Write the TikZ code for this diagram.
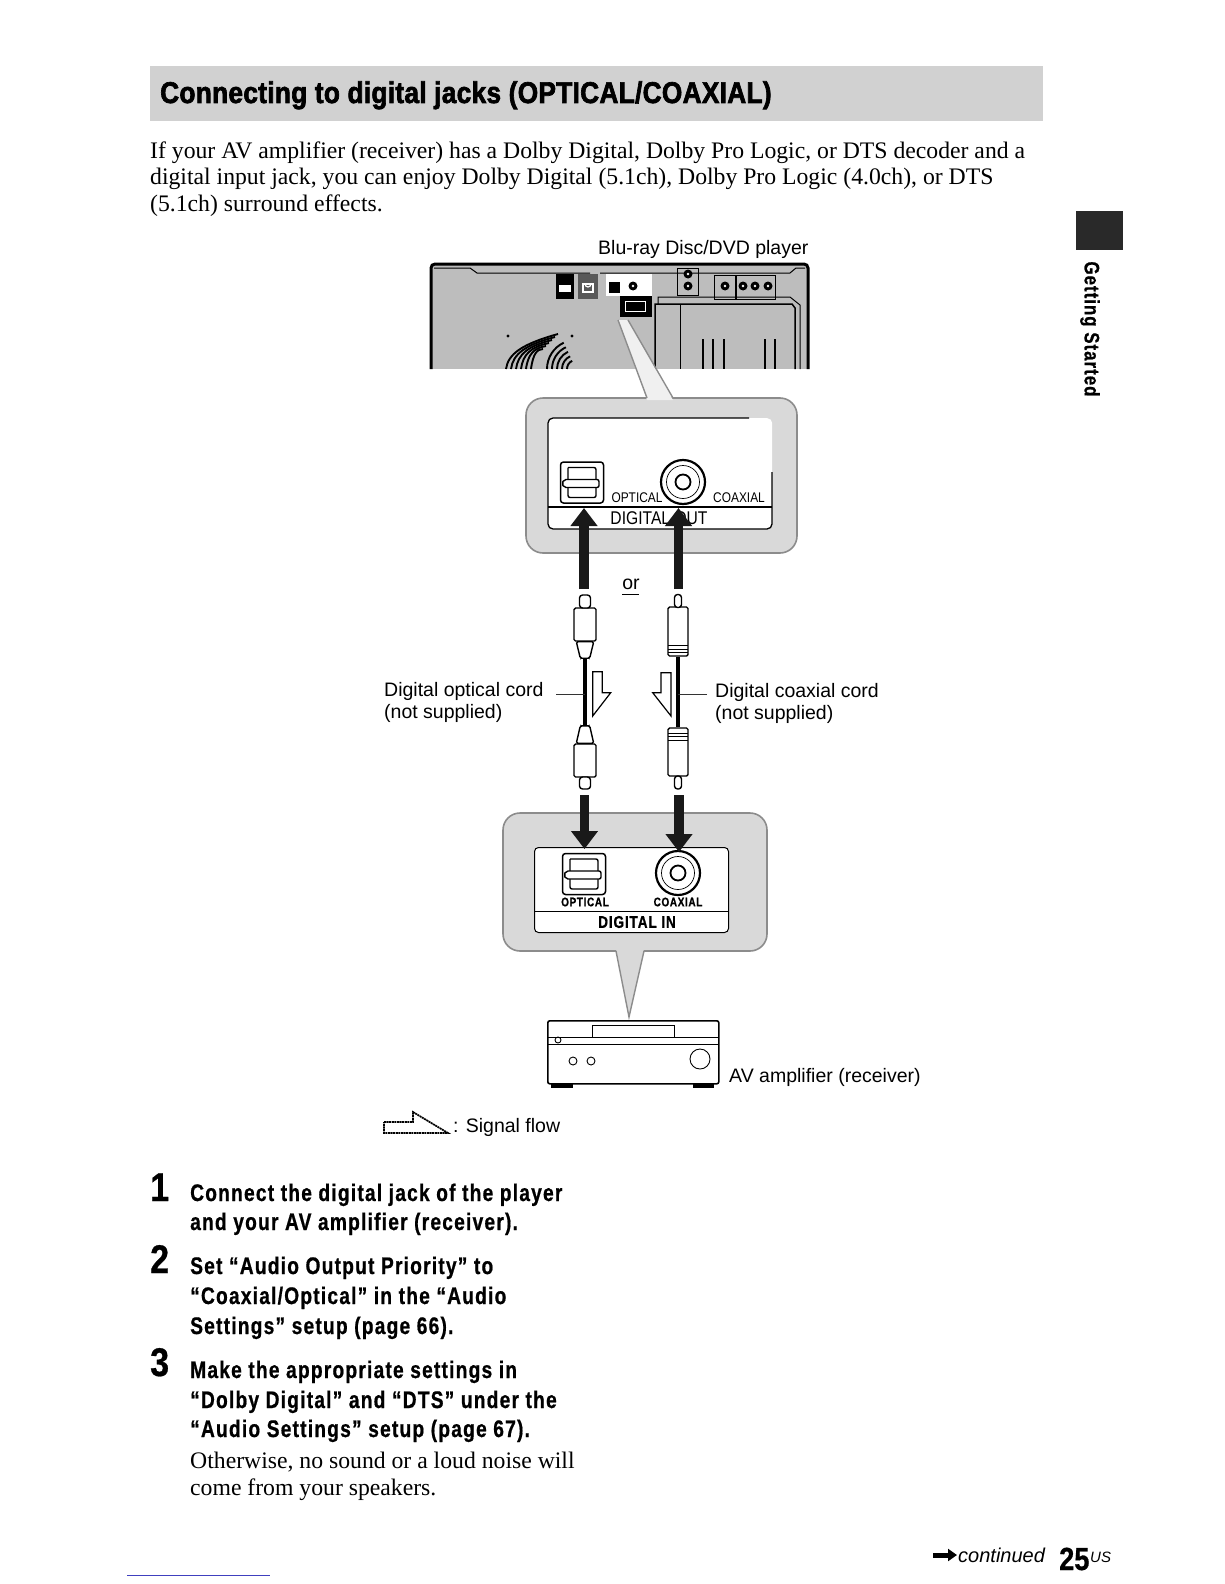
\documentclass[tikz,border=0pt]{standalone}
\usepackage{fontspec}
\usetikzlibrary{arrows.meta}
\setmainfont{Liberation Serif}
\setsansfont{Liberation Sans}
\newfontfamily\headfont[FakeStretch=0.875,FakeBold=2.2,LetterSpace=1]{Liberation Sans Bold}
\newfontfamily\stepfont[FakeStretch=0.80,FakeBold=.7,LetterSpace=5]{Liberation Sans Bold}
\newfontfamily\numfont[FakeStretch=0.85,FakeBold=.6]{Liberation Sans Bold}
\newfontfamily\narrowfont[FakeStretch=0.85]{Liberation Sans}
\definecolor{bandgray}{gray}{0.82}
\definecolor{bubblegray}{gray}{0.85}
\definecolor{rimgray}{gray}{0.55}
\definecolor{playergray}{gray}{0.74}
\definecolor{tabgray}{gray}{0.16}
\tikzset{
  txt/.style={anchor=base west,inner sep=0pt},
  bodytxt/.style={txt,font=\rmfamily\fontsize{23.7}{26}\selectfont},
  steptxt/.style={txt,font=\stepfont\fontsize{24}{26}\selectfont},
  stepnum/.style={txt,font=\numfont\fontsize{40}{40}\selectfont},
  labeltxt/.style={txt,font=\sffamily\fontsize{19.5}{22}\selectfont},
  bubble/.style={draw=rimgray,line width=1.6pt,fill=bubblegray,rounded corners=17pt},
  sigflow/.style={line width=9.5pt,draw=black!90,-{Triangle[width=26pt,length=18pt]}},
  hollow/.style={draw=black,line width=1.2pt,fill=white},
  plug/.style={draw=black,line width=1.4pt,fill=white,rounded corners=1.5pt,inner sep=0pt},
  cord/.style={line width=3.6pt,black},
  lead/.style={line width=.8pt,black!80},
  optical socket/.pic={
    \draw[line width=1.5pt,rounded corners=3pt] (-21.5,-20.5) rectangle (21.5,20.5);
    \draw[line width=1.4pt,rounded corners=2pt] (-14,-15) -- (14,-15) -- (14,-5) -- (14,15) -- (-14,15) -- (-14,-15);
    \draw[line width=1.4pt,fill=white,rounded corners=2pt] (-18,-3) -- (17,-3) -- (17,5) -- (-18,5) -- (-20,1) -- cycle;
  },
  coax socket/.pic={
    \draw[line width=2.2pt,fill=white] (0,0) circle (22);
    \draw[line width=.7pt] (0,0) circle (16.5);
    \draw[line width=1.8pt] (0,0) circle (7.5);
  },
  small jack/.pic={
    \fill[black] (0,0) circle (4.5);
    \fill[white] (0,0) circle (1.4);
  }
}
\begin{document}
\begin{tikzpicture}[x=1pt,y=-1pt]
  \useasboundingbox (0,0) rectangle (1224,1584);
  % heading and intro
  \node[anchor=north west,fill=bandgray,minimum width=893pt,minimum height=55pt,inner sep=0pt] (band) at (150,66) {};
  \node[txt,font=\headfont\fontsize{30}{30}\selectfont] (head) at (160,103) {Connecting to digital jacks (OPTICAL/COAXIAL)};
  \node[bodytxt] (introa) at (150,158) {If your AV amplifier (receiver) has a Dolby Digital, Dolby Pro Logic, or DTS decoder and a};
  \node[bodytxt] (introb) at (150,184) {digital input jack, you can enjoy Dolby Digital (5.1ch), Dolby Pro Logic (4.0ch), or DTS};
  \node[bodytxt] (introc) at (150,211) {(5.1ch) surround effects.};

  % player
  \node[labeltxt] (playerlbl) at (598,254) {Blu-ray Disc/DVD player};
  \fill[playergray] (431,369) -- (431,265) -- (808,265) -- (808,369) -- cycle;
  \draw[line width=3pt,rounded corners=4pt] (431,369) -- (431,264) -- (808,264) -- (808,369);
  \draw[line width=1pt] (434,268) -- (470,268) -- (477,273) -- (590,273) (600,273) -- (790,273) -- (796,268) -- (805,268);
  \fill (556,274) rectangle (574,299);
  \fill[white] (559,285) rectangle (571,292);
  \fill[black!65] (578,274) rectangle (598,299);
  \draw[white,line width=1.5pt] (583,292) -- (593,292) -- (593,284) -- (583,284) -- cycle;
  \draw[white,line width=1.2pt] (585,284) arc (180:0:3);
  \fill[white] (606,274) rectangle (652,296);
  \fill (609,282) rectangle (620,293);
  \pic at (633,286) {small jack};
  \fill (620,296) rectangle (652,317);
  \draw[white,line width=1pt] (625,301) rectangle (645,311);
  \draw[line width=.8pt] (677,268) rectangle (698,295);
  \pic at (688,274) {small jack};
  \pic at (688,286) {small jack};
  \draw[line width=.8pt] (714,275) rectangle (735,299);
  \draw[line width=.8pt] (736,275) rectangle (775,299);
  \foreach \jx in {725,743,755,768} {
    \pic at (\jx,286) {small jack};
  }
  \draw[line width=1.5pt] (655,369) -- (655,304) -- (792,304) -- (795,308) -- (795,369);
  \draw[line width=1pt] (658,304) -- (658,297) -- (790,297) -- (800,305) -- (800,369);
  \draw[line width=1pt] (680,304) -- (680,369);
  \foreach \sx in {703,713,724,765,775} {
    \draw[line width=2.4pt] (\sx,339) -- (\sx,369);
  }
  % fan
  \fill (508,336) circle (1.6);
  \fill (572,336) circle (1.6);
  \begin{scope}
    \clip (500,333) rectangle (580,369);
    \foreach \bn in {0,1,2,3,4,5} {
      \draw[line width=1.9pt] (506+5*\bn,369) .. controls (508+5*\bn,354) and (522+3*\bn,344+\bn) .. (558-3*\bn,334+3*\bn);
    }
    \foreach \fr in {9,14,19,24,29} {
      \draw[line width=1.9pt] (576-\fr,369) arc (180:245:\fr);
    }
  \end{scope}
  % upper bubble
  \draw[bubble] (526,398) rectangle (797,553);
  \fill[bubblegray!40] (618,320) -- (647,400) -- (673,400) -- (628,320) -- cycle;
  \draw[rimgray,line width=1.4pt] (618,320) -- (647,398) (628,320) -- (673,398);
  \node[anchor=north west,fill=white,minimum width=224pt,minimum height=111pt,inner sep=0pt,rounded corners=5pt] (outpanel) at (548,418) {};
  \draw[line width=1.3pt,rounded corners=5pt] (749,418) -- (548,418) -- (548,529) -- (772,529) -- (772,472);
  \draw[line width=1.2pt] (548,507) -- (772,507);
  \pic at (582,482.5) {optical socket};
  \pic at (683,482) {coax socket};
  \node[font=\narrowfont\fontsize{14}{14}\selectfont,inner sep=0pt] (outoptlbl) at (637,498) {OPTICAL};
  \node[font=\narrowfont\fontsize{14}{14}\selectfont,inner sep=0pt] (outcoaxlbl) at (739,498) {COAXIAL};
  \node[font=\narrowfont\fontsize{18.4}{18}\selectfont,inner sep=0pt] (outlbl) at (659,518) {DIGITAL OUT};
  \coordinate (optoutfoot) at (584,589);
  \coordinate (optoutport) at (584,508);
  \coordinate (coaxoutfoot) at (678.5,589);
  \coordinate (coaxoutport) at (678.5,508);
  \draw[sigflow] (optoutfoot) -- (optoutport);
  \draw[sigflow] (coaxoutfoot) -- (coaxoutport);
  \node[font=\sffamily\fontsize{19.5}{20}\selectfont,inner sep=0pt] (orlbl) at (631,584) {or};
  \draw[line width=1pt] (622,594) -- (639,594);

  % optical cord
  \node[plug,minimum width=22pt,minimum height=33pt] (optbodya) at (585,624.5) {};
  \node[plug,minimum width=22pt,minimum height=33pt] (optbodyb) at (585,760.5) {};
  \node[plug,minimum width=11pt,minimum height=13pt,rounded corners=3pt] (opttipa) at (585,601.5) {};
  \node[plug,minimum width=11pt,minimum height=12pt,rounded corners=3pt] (opttipb) at (585,783) {};
  \node[plug,minimum width=8pt,minimum height=1pt] (optneckend) at (585,657) {};
  \node[plug,minimum width=8pt,minimum height=1pt] (optneckendb) at (585,727) {};
  \draw[plug] (optbodya.south west) ++(3,0) -- (optneckend.south west) -- (optneckend.south east) -- ([xshift=-3pt]optbodya.south east) -- cycle;
  \draw[plug] (optbodyb.north west) ++(3,0) -- (optneckendb.north west) -- (optneckendb.north east) -- ([xshift=-3pt]optbodyb.north east) -- cycle;
  \draw[cord] (optneckend) -- (optneckendb);
  % coaxial cord
  \node[plug,minimum width=20pt,minimum height=49pt] (coaxbodya) at (678,631.5) {};
  \node[plug,minimum width=20pt,minimum height=48pt] (coaxbodyb) at (678,752) {};
  \node[plug,minimum width=7pt,minimum height=13pt,rounded corners=3pt] (coaxtipa) at (678,601) {};
  \node[plug,minimum width=7pt,minimum height=13pt,rounded corners=3pt] (coaxtipb) at (678,782.5) {};
  \draw[line width=.6pt] (668,645) -- (688,645) (668,649) -- (688,649) (668,652) -- (688,652);
  \draw[line width=.6pt] (668,733) -- (688,733) (668,736) -- (688,736) (668,740) -- (688,740);
  \draw[cord] (coaxbodya) -- (coaxbodyb);
  % signal flow beside the cords
  \draw[hollow] (592.7,671.7) -- (602.3,671.7) -- (602.3,692.7) -- (610.7,692.7) -- (592.7,716) -- cycle;
  \draw[hollow] (671,672.7) -- (661,672.7) -- (661,692.7) -- (652.7,692.7) -- (671,716) -- cycle;
  \node[labeltxt] (optlbl) at (384,696) {Digital optical cord};
  \node[labeltxt] (optlblb) at (384,718) {(not supplied)};
  \node[labeltxt] (coaxlbl) at (715,697) {Digital coaxial cord};
  \node[labeltxt] (coaxlblb) at (715,719) {(not supplied)};
  \coordinate (optlead) at (556,694);
  \coordinate (optcordpt) at (585,694);
  \coordinate (coaxlead) at (707,694);
  \coordinate (coaxcordpt) at (678,694);
  \draw[lead] (optlead) -- (optcordpt);
  \draw[lead] (coaxlead) -- (coaxcordpt);

  % lower bubble
  \draw[bubble] (503,813) rectangle (767,951);
  \fill[bubblegray] (616,949) -- (629,1017) -- (644,949) -- cycle;
  \draw[rimgray,line width=1.4pt] (616,951) -- (629,1017) -- (644,951);
  \node[anchor=north west,draw=black,line width=1pt,fill=white,minimum width=194pt,minimum height=85pt,inner sep=0pt,rounded corners=4pt] (inpanel) at (534,847) {};
  \draw[line width=.9pt] (inpanel.west |- 0,911) -- (inpanel.east |- 0,911);
  \pic at (584,874) {optical socket};
  \pic at (678,873) {coax socket};
  \node[font=\stepfont\fontsize{12.5}{13}\selectfont,inner sep=0pt] (inoptlbl) at (585,902) {OPTICAL};
  \node[font=\stepfont\fontsize{12.5}{13}\selectfont,inner sep=0pt] (incoaxlbl) at (678,902) {COAXIAL};
  \node[font=\stepfont\fontsize{17}{16}\selectfont,inner sep=0pt] (inlbl) at (637,922) {DIGITAL IN};
  \coordinate (optinfoot) at (584.5,795);
  \coordinate (optinport) at (584.5,849);
  \coordinate (coaxinfoot) at (679,795);
  \coordinate (coaxinport) at (679,852);
  \draw[sigflow] (optinfoot) -- (optinport);
  \draw[sigflow] (coaxinfoot) -- (coaxinport);

  % amplifier
  \fill (551,1083) rectangle (573,1088);
  \fill (693,1083) rectangle (714,1088);
  \node[anchor=north west,draw=black,line width=1.6pt,fill=white,minimum width=171pt,minimum height=63pt,inner sep=0pt,rounded corners=2pt] (amp) at (547,1020) {};
  \draw[line width=1pt,fill=white] (592,1025) rectangle (674,1037);
  \draw[line width=.8pt] (547,1037) -- (592,1037) (674,1037) -- (718,1037);
  \draw[line width=.8pt] (547,1044) -- (718,1044);
  \draw[line width=.9pt] (558,1040) circle (3);
  \draw[line width=.9pt] (573,1061) circle (4);
  \draw[line width=.9pt] (591,1061) circle (4);
  \draw[line width=.9pt] (700,1059) circle (10);
  \node[labeltxt] (amplbl) at (729,1082) {AV amplifier (receiver)};
  % legend
  \draw[draw=black,line width=1.7pt,dash pattern=on 2pt off .6pt] (384,1122) -- (413,1122) -- (413,1112) -- (448,1133) -- (384,1133) -- cycle;
  \node[labeltxt] (legendlbl) at (453,1132) {: Signal flow};

  % steps
  \node[stepnum] (numa) at (150,1201) {1};
  \node[steptxt] (stepa) at (190,1201) {Connect the digital jack of the player};
  \node[steptxt] (stepab) at (190,1230) {and your AV amplifier (receiver).};
  \node[stepnum] (numb) at (150,1273) {2};
  \node[steptxt] (stepb) at (190,1274) {Set “Audio Output Priority” to};
  \node[steptxt] (stepbb) at (190,1304) {“Coaxial/Optical” in the “Audio};
  \node[steptxt] (stepbc) at (190,1334) {Settings” setup (page 66).};
  \node[stepnum] (numc) at (150,1376) {3};
  \node[steptxt] (stepc) at (190,1378) {Make the appropriate settings in};
  \node[steptxt] (stepcb) at (190,1408) {“Dolby Digital” and “DTS” under the};
  \node[steptxt] (stepcc) at (190,1437) {“Audio Settings” setup (page 67).};
  \node[bodytxt] (notea) at (190,1468) {Otherwise, no sound or a loud noise will};
  \node[bodytxt] (noteb) at (190,1495) {come from your speakers.};

  % side tab and footer
  \fill[tabgray] (1076,211) rectangle (1123,250);
  \node[rotate=-90,font=\stepfont\fontsize{21}{21}\selectfont,inner sep=0pt] (tablbl) at (1090,329) {Getting Started};
  \draw[line width=5pt,-{Triangle[width=12pt,length=9pt]}] (933,1555) -- (957,1555);
  \node[txt,font=\sffamily\itshape\fontsize{20}{20}\selectfont] (contlbl) at (958,1562) {continued};
  \node[txt,font=\numfont\fontsize{32}{32}\selectfont] (pagelbl) at (1059,1570) {25};
  \node[txt,font=\sffamily\itshape\fontsize{15}{15}\selectfont] (uslbl) at (1090,1562) {US};
  \draw[blue!50!gray,line width=.7pt] (127,1575.5) -- (270,1575.5);
\end{tikzpicture}
\end{document}
